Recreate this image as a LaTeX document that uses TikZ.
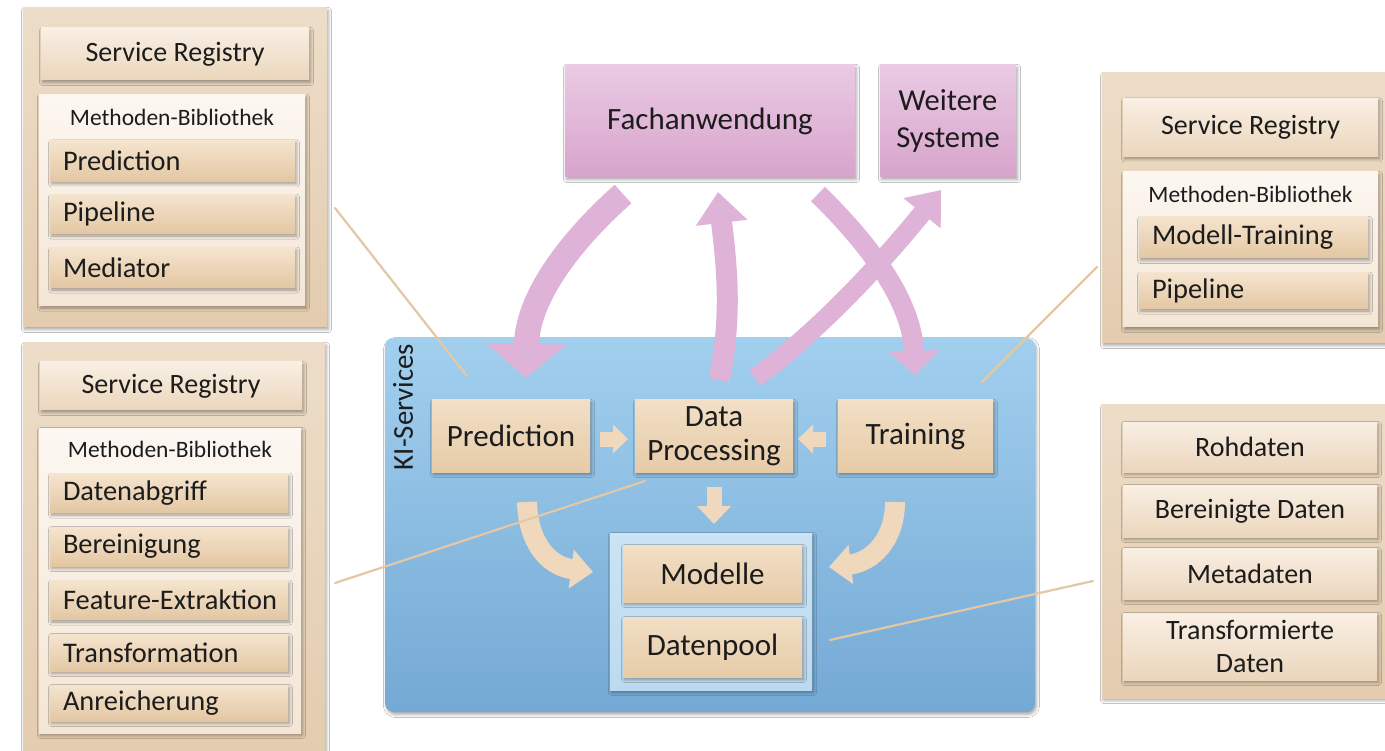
\documentclass[tikz,border=0pt]{standalone}
\usepackage{fontspec}
\setmainfont{Carlito}
\usetikzlibrary{arrows.meta,shadows,shadows.blur,calc}

% palette
\definecolor{panelT}{HTML}{EDDDC8}
\definecolor{panelB}{HTML}{E3CCAF}
\definecolor{regT}{HTML}{F9EFE4}
\definecolor{regB}{HTML}{EBD6BC}
\definecolor{libT}{HTML}{FCF7F1}
\definecolor{libB}{HTML}{F3E6D6}
\definecolor{itemT}{HTML}{F5E4CE}
\definecolor{itemB}{HTML}{E3C7A3}
\definecolor{svcT}{HTML}{F2DFC6}
\definecolor{svcB}{HTML}{E6CBA8}
\definecolor{pinkT}{HTML}{EACAE4}
\definecolor{pinkB}{HTML}{D8A4CC}
\definecolor{pinkarr}{HTML}{DFB3D7}
\definecolor{blueT}{HTML}{A2CFEE}
\definecolor{blueB}{HTML}{74A9D5}
\definecolor{poolT}{HTML}{CAE4F5}
\definecolor{poolB}{HTML}{BCDAEF}
\definecolor{tanarr}{HTML}{EFD8BC}
\definecolor{tanline}{HTML}{E2C8A5}
\definecolor{ink}{HTML}{1C1C1C}

\begin{document}
\begin{tikzpicture}[x=1pt,y=-1pt,
  every node/.style={text=ink},
  softshadow/.style={blur shadow={shadow xshift=1.5pt, shadow yshift=-2.5pt,
      shadow blur radius=3pt, shadow opacity=35}},
  panel/.style={rectangle, top color=panelT, bottom color=panelB, softshadow, inner sep=0pt},
  regbox/.style={rectangle, top color=regT, bottom color=regB, softshadow, inner sep=0pt,
      font=\fontsize{28}{33}\selectfont},
  libbox/.style={rectangle, top color=libT, bottom color=libB, softshadow, inner sep=0pt},
  liblabel/.style={font=\fontsize{23.5}{27}\selectfont, inner sep=0pt},
  item/.style={rectangle, top color=itemT, bottom color=itemB, softshadow,
      minimum width=#1, text width=#1, inner xsep=0pt, inner ysep=0pt, align=left,
      execute at begin node={\hspace*{13pt}}, font=\fontsize{28.4}{33}\selectfont},
  svc/.style={rectangle, top color=svcT, bottom color=svcB, softshadow, inner sep=0pt,
      align=center, font=\fontsize{31}{34.5}\selectfont},
  app/.style={rectangle, top color=pinkT, bottom color=pinkB, softshadow, inner sep=0pt,
      align=center, font=\fontsize{31}{36.5}\selectfont},
  pinkflow/.style={draw=pinkarr, line cap=butt},
  tanflow/.style={draw=tanarr, line cap=butt},
  callout/.style={draw=tanline, line width=2.2pt, line cap=round}
]
\clip (0,0) rectangle (1385,751);
\fill[white] (0,0) rectangle (1385,751);

% ---------- KI-Services container ----------
\node[rectangle, rounded corners=9pt, top color=blueT, bottom color=blueB, softshadow,
      minimum width=650pt, minimum height=374pt] (ki) at (710,525) {};
\node[rotate=90, font=\fontsize{28.8}{32}\selectfont, inner sep=0pt] (kilabel) at (403,407) {KI-Services};

% ---------- applications ----------
\node[app, minimum width=290pt, minimum height=112pt] (fach) at (710,121) {Fachanwendung};
\node[app, minimum width=136pt, minimum height=112pt, font=\fontsize{30.5}{37}\selectfont] (weit) at (948,121) {Weitere\\Systeme};

% ---------- services ----------
\node[svc, minimum width=158pt, minimum height=72pt] (pred) at (511,436) {Prediction};
\node[svc, minimum width=158pt, minimum height=72pt] (dp) at (714,436) {Data\\Processing};
\node[svc, minimum width=155pt, minimum height=72pt] (train) at (915.5,436) {Training};

\node[rectangle, top color=poolT, bottom color=poolB, softshadow,
      minimum width=202pt, minimum height=157pt] (store) at (711,611.5) {};
\node[svc, minimum width=179pt, minimum height=57pt] (mod) at (712.5,573.5) {Modelle};
\node[svc, minimum width=179pt, minimum height=60pt] (pool) at (712.5,647) {Datenpool};

% ---------- flows between services ----------
\coordinate (pr-a) at (600,439);  \coordinate (pr-b) at (628,439);
\coordinate (tr-a) at (826,439);  \coordinate (tr-b) at (798,439);
\coordinate (dp-a) at (714,487);  \coordinate (dp-b) at (714,524);
\draw[tanflow, line width=15pt, -{Triangle[width=28pt,length=15pt]}] (pr-a) -- (pr-b);
\draw[tanflow, line width=15pt, -{Triangle[width=28pt,length=15pt]}] (tr-a) -- (tr-b);
\draw[tanflow, line width=15pt, -{Triangle[width=33pt,length=18pt]}] (dp-a) -- (dp-b);

\coordinate (pl-a) at (527,502);  \coordinate (pl-b) at (593,572);
\coordinate (tl-a) at (895,502);  \coordinate (tl-b) at (829,567);
\draw[tanflow, line width=20pt, -{Triangle[width=38pt,length=22pt]}]
  (pl-a) .. controls (528,542) and (548,566) .. (pl-b);
\draw[tanflow, line width=20pt, -{Triangle[width=38pt,length=22pt]}]
  (tl-a) .. controls (895,540) and (872,562) .. (tl-b);

% ---------- flows to and from the applications ----------
\coordinate (f1-a) at (623,194);  \coordinate (f1-b) at (526,378);
\coordinate (f2-a) at (719,380);  \coordinate (f2-b) at (718,192);
\coordinate (f3-a) at (755,378);  \coordinate (f3-b) at (941,190);
\coordinate (f4-a) at (818,194);  \coordinate (f4-b) at (915,376);
\draw[pinkflow, line width=25pt, -{Triangle[width=78pt,length=34pt]}]
  (f1-a) .. controls (566,245) and (527,300) .. (f1-b);
\draw[pinkflow, line width=21pt, -{Triangle[width=50pt,length=31pt]}]
  (f2-a) .. controls (733,315) and (726,260) .. (f2-b);
\draw[pinkflow, line width=19pt, -{Triangle[width=46pt,length=30pt]}]
  (f3-a) .. controls (820,330) and (880,265) .. (f3-b);
\draw[pinkflow, line width=20pt, -{Triangle[width=48pt,length=25pt]}]
  (f4-a) .. controls (868,243) and (912,300) .. (f4-b);

% ---------- library panel: prediction ----------
\node[panel, minimum width=304pt, minimum height=319pt] (p1) at (175,167.5) {};
\node[regbox, minimum width=268pt, minimum height=52pt] (p1reg) at (175,54) {Service Registry};
\node[libbox, minimum width=266pt, minimum height=211pt] (p1lib) at (172,200) {};
\node[liblabel] (p1lbl) at (172,117) {Methoden-Bibliothek};
\node[item=245pt, minimum height=41pt] (p1a) at (172.5,161) {Prediction};
\node[item=245pt, minimum height=39pt] (p1b) at (172.5,214) {Pipeline};
\node[item=245pt, minimum height=40pt] (p1c) at (172.5,267.5) {Mediator};

% ---------- library panel: data processing ----------
\node[panel, minimum width=302pt, minimum height=420pt] (p2) at (174,553) {};
\node[regbox, minimum width=262pt, minimum height=48pt] (p2reg) at (171,386) {Service Registry};
\node[libbox, minimum width=262pt, minimum height=305pt] (p2lib) at (170,580.5) {};
\node[liblabel] (p2lbl) at (170,449) {Methoden-Bibliothek};
\node[item=238pt, minimum height=39pt] (p2a) at (169,493) {Datenabgriff};
\node[item=238pt, minimum height=39pt] (p2b) at (169,546.5) {Bereinigung};
\node[item=238pt, minimum height=39pt] (p2c) at (169,600) {Feature-Extraktion};
\node[item=238pt, minimum height=37pt] (p2d) at (169,652.5) {Transformation};
\node[item=238pt, minimum height=36pt] (p2e) at (169,703) {Anreicherung};

% ---------- library panel: training ----------
\node[panel, minimum width=293pt, minimum height=270pt] (p3) at (1248.5,208) {};
\node[regbox, minimum width=255pt, minimum height=58pt] (p3reg) at (1250.5,127.5) {Service Registry};
\node[libbox, minimum width=255pt, minimum height=155pt] (p3lib) at (1250.5,249.5) {};
\node[liblabel] (p3lbl) at (1250.5,194) {Methoden-Bibliothek};
\node[item=229pt, minimum height=41pt] (p3a) at (1253.5,237.5) {Modell-Training};
\node[item=229pt, minimum height=36pt] (p3b) at (1253.5,290.5) {Pipeline};

% ---------- data panel ----------
\node[panel, minimum width=293pt, minimum height=293pt] (p4) at (1248.5,551.5) {};
\node[regbox, minimum width=254pt, minimum height=50pt] (p4a) at (1250,447) {Rohdaten};
\node[regbox, minimum width=254pt, minimum height=52pt] (p4b) at (1250,511) {Bereinigte Daten};
\node[regbox, minimum width=254pt, minimum height=51pt] (p4c) at (1250,573.5) {Metadaten};
\node[regbox, minimum width=254pt, minimum height=67pt, align=center] (p4d) at (1250,646.5) {Transformierte\\Daten};

% ---------- callout lines from the panels ----------
\coordinate (c1a) at (335,208);  \coordinate (c1b) at (467,376);
\coordinate (c2a) at (335,583);  \coordinate (c2b) at (645,481);
\coordinate (c3a) at (1097,267); \coordinate (c3b) at (982,382);
\coordinate (c4a) at (1093,581); \coordinate (c4b) at (830,640);
\draw[callout] (c1a) -- (c1b);
\draw[callout] (c2a) -- (c2b);
\draw[callout] (c3a) -- (c3b);
\draw[callout] (c4a) -- (c4b);
\end{tikzpicture}
\end{document}
